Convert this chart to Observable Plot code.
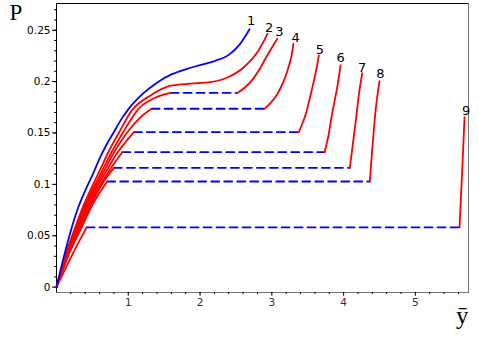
<!DOCTYPE html>
<html><head><meta charset="utf-8">
<script src="https://cdn.jsdelivr.net/npm/d3@7"></script>
<script src="https://cdn.jsdelivr.net/npm/@observablehq/plot@0.6"></script>
<style>body{margin:0;background:#fff} svg{display:block}</style>
</head><body><div id="chart"></div>
<script>
// Curve 1 (blue, full isotherm)
const curve1 = [[0,0],[0.1,0.029],[0.2,0.055],[0.3,0.077],[0.4,0.094],[0.5,0.109],[0.6,0.125],[0.7,0.139],[0.8,0.151],[0.9,0.163],[1.0,0.173],[1.2,0.188],[1.4,0.199],[1.6,0.207],[1.8,0.212],[2.0,0.216],[2.2,0.220],[2.4,0.226],[2.55,0.236],[2.69,0.251]];
// Curve 2 (red, continuous)
const curve2 = [[0,0],[0.12,0.03],[0.26,0.058],[0.38,0.08],[0.53,0.103],[0.62,0.116],[0.72,0.131],[0.875,0.151],[1.05,0.172],[1.31,0.1865],[1.59,0.196],[1.87,0.198],[2.146,0.1995],[2.38,0.204],[2.61,0.214],[2.80,0.2287],[2.94,0.2465]];
// Left (liquid) branches of curves 3..9
const left3 = [[0,0],[0.125,0.03],[0.275,0.058],[0.40,0.08],[0.56,0.103],[0.655,0.116],[0.765,0.131],[0.93,0.151],[1.15,0.174],[1.35,0.1835],[1.59,0.189]];
const left4 = [[0,0],[0.135,0.03],[0.29,0.058],[0.42,0.08],[0.585,0.103],[0.685,0.116],[0.80,0.131],[0.99,0.151],[1.15,0.164],[1.325,0.1736]];
const left5 = [[0,0],[0.14,0.03],[0.305,0.058],[0.44,0.08],[0.61,0.103],[0.72,0.116],[0.85,0.131],[0.96,0.141],[1.078,0.1508]];
const left6 = [[0,0],[0.15,0.03],[0.32,0.058],[0.46,0.08],[0.64,0.103],[0.76,0.116],[0.916,0.1313]];
const left7 = [[0,0],[0.155,0.03],[0.335,0.058],[0.48,0.08],[0.66,0.103],[0.80,0.1161]];
const left8 = [[0,0],[0.16,0.03],[0.35,0.058],[0.50,0.08],[0.707,0.1028]];
const left9 = [[0,0],[0.205,0.0295],[0.419,0.0581]];
// Right (gas) branches of curves 3..9
const right3 = [[2.52,0.189],[2.62,0.194],[2.72,0.201],[2.82,0.211],[2.92,0.2235],[3.0,0.233],[3.075,0.2416]];
const right4 = [[2.90,0.1736],[2.98,0.179],[3.06,0.186],[3.13,0.195],[3.19,0.205],[3.24,0.216],[3.28,0.227],[3.30,0.2368]];
const right5 = [[3.376,0.1508],[3.43,0.160],[3.48,0.170],[3.53,0.184],[3.58,0.199],[3.62,0.212],[3.655,0.2254]];
const right6 = [[3.735,0.1313],[3.79,0.148],[3.84,0.1687],[3.885,0.185],[3.92,0.198],[3.957,0.2157]];
const right7 = [[4.086,0.1161],[4.13,0.140],[4.17,0.162],[4.21,0.186],[4.26,0.2082]];
const right8 = [[4.365,0.1028],[4.40,0.135],[4.44,0.168],[4.50,0.2004]];
const right9 = [[5.615,0.0581],[5.65,0.11],[5.685,0.1654]];
// Horizontal (dashed) coexistence lines for curves 3..9
const dashLevel = [0.189,0.1736,0.1508,0.1313,0.1161,0.1028,0.0581];
const dashStart = [1.59,1.325,1.078,0.916,0.80,0.707,0.419];
const dashEnd   = [2.52,2.90,3.376,3.735,4.086,4.365,5.615];
// Curve number labels
const labelText = ["1","2","3","4","5","6","7","8","9"];
const labelX = [2.713,2.964,3.107,3.33,3.668,3.957,4.259,4.514,5.707];
const labelP = [0.2588,0.2524,0.2481,0.2423,0.2313,0.2228,0.2135,0.2076,0.1719];
// Ticks
const yTicks = [0,0.05,0.1,0.15,0.2,0.25];
const xTicks = [1,2,3,4,5];
const yMinor = d3.range(0,0.2701,0.01).map(v=>+v.toFixed(2));
const xMinor = d3.range(0.2,5.61,0.2).map(v=>+v.toFixed(1));

const redCurves = [curve2,left3,left4,left5,left6,left7,left8,left9,right3,right4,right5,right6,right7,right8,right9];
const redRows = redCurves.flatMap((c,i)=>c.map(([x,p])=>({id:i,x,p})));
const blueRows = curve1.map(([x,p])=>({x,p}));
const dashRows = dashLevel.flatMap((p,i)=>[{id:i,x:dashStart[i],p},{id:i,x:dashEnd[i],p}]);
const labels = labelText.map((t,i)=>({t,x:labelX[i],p:labelP[i]}));

const chart = Plot.plot({
  width:479, height:339,
  marginLeft:56, marginRight:11, marginTop:3, marginBottom:47,
  style:{fontFamily:"DejaVu Sans", fontSize:"10.5px", background:"#fff"},
  x:{domain:[0,5.74]},
  y:{domain:[-0.0052,0.276]},
  marks:[
    Plot.frame({stroke:"#777"}),
    Plot.ruleX([0],{stroke:"#000"}),
    Plot.ruleY([0.276],{stroke:"#000"}),
    Plot.axisY(yTicks,{tickSize:4,tickPadding:2,label:null,tickFormat:d=>String(d),color:"#000"}),
    Plot.axisY(yMinor,{tickSize:2,label:null,tickFormat:()=>""}),
    Plot.axisX(xTicks,{tickSize:4,tickPadding:2,label:null,tickFormat:d=>String(d),color:"#333"}),
    Plot.axisX(xMinor,{tickSize:2,label:null,tickFormat:()=>""}),
    Plot.line(dashRows,{x:"x",y:"p",z:"id",stroke:"#0000ff",strokeWidth:1.8,strokeDasharray:"8,5"}),
    Plot.line(redRows,{x:"x",y:"p",z:"id",stroke:"#ff0000",strokeWidth:1.8,curve:"monotone-x"}),
    Plot.line(blueRows,{x:"x",y:"p",stroke:"#0000ff",strokeWidth:1.8,curve:"monotone-x"}),
    Plot.text(labels,{x:"x",y:"p",text:"t",fontSize:13,fill:"#000"}),
    Plot.text(["P"],{frameAnchor:"top-left",dx:-47,dy:0,fontSize:23,fontFamily:"Liberation Serif",fill:"#000"}),
    Plot.text(["ȳ"],{frameAnchor:"bottom-right",dx:0,dy:31,fontSize:25,fontFamily:"Liberation Serif",fill:"#000"})
  ]
});
document.getElementById("chart").appendChild(chart);
</script></body></html>
